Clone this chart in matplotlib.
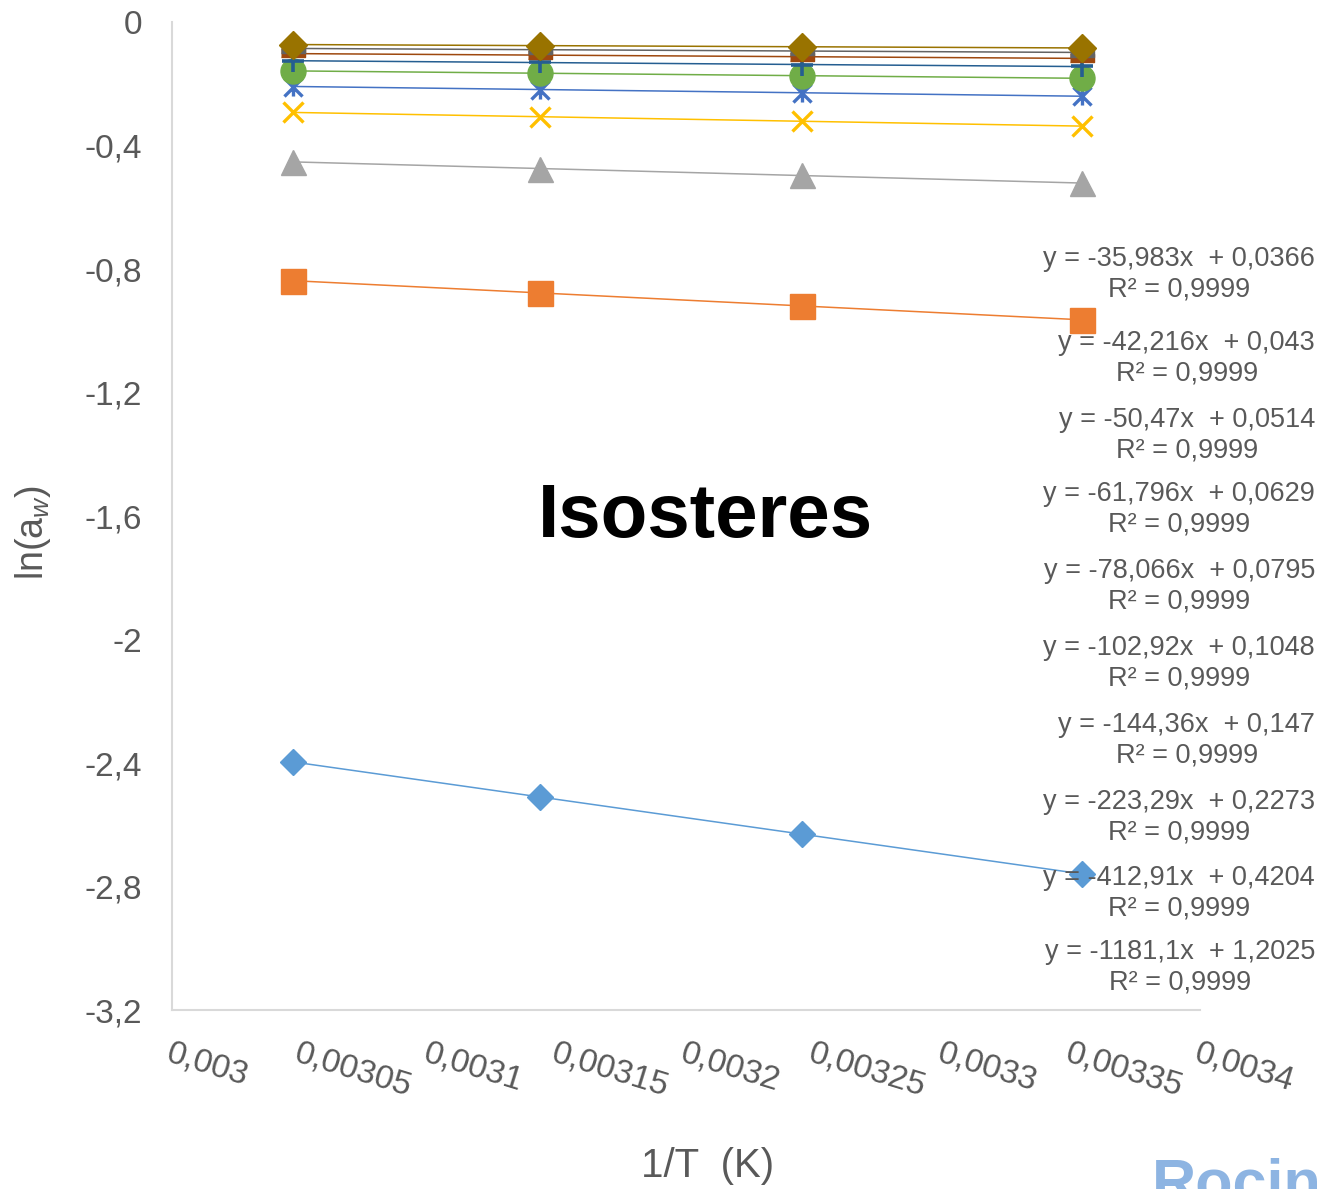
import matplotlib
matplotlib.use("Agg")
import matplotlib.pyplot as plt
import numpy as np
from matplotlib.path import Path

plt.rcParams['font.family'] = ['Liberation Sans', 'DejaVu Sans']
plt.rcParams['mathtext.fontset'] = 'custom'
plt.rcParams['mathtext.rm'] = 'Liberation Sans'
plt.rcParams['mathtext.it'] = 'Liberation Sans:italic'

# 1/T values (K^-1) for 55, 45, 35 and 25 °C
inv_T = [0.003047, 0.003143, 0.003245, 0.003354]

# ln(aw) at each temperature, one list per moisture level
ln_aw_1 = [-2.396, -2.510, -2.630, -2.759]
ln_aw_2 = [-0.838, -0.877, -0.920, -0.965]
ln_aw_3 = [-0.453, -0.475, -0.497, -0.522]
ln_aw_4 = [-0.293, -0.307, -0.322, -0.337]
ln_aw_5 = [-0.209, -0.219, -0.229, -0.240]
ln_aw_6 = [-0.158, -0.166, -0.174, -0.182]
ln_aw_7 = [-0.125, -0.131, -0.138, -0.144]
ln_aw_8 = [-0.102, -0.107, -0.112, -0.118]
ln_aw_9 = [-0.086, -0.090, -0.094, -0.099]
ln_aw_10 = [-0.073, -0.077, -0.080, -0.084]

# linear fits ln(aw) = slope * (1/T) + intercept
slopes = [-1181.1, -412.91, -223.29, -144.36, -102.92,
          -78.066, -61.796, -50.47, -42.216, -35.983]
intercepts = [1.2025, 0.4204, 0.2273, 0.147, 0.1048,
              0.0795, 0.0629, 0.0514, 0.043, 0.0366]
r_squared = ["0,9999"] * 10

x_ticks = [0.003, 0.00305, 0.0031, 0.00315, 0.0032, 0.00325,
           0.0033, 0.00335, 0.0034]
y_ticks = [0, -0.4, -0.8, -1.2, -1.6, -2, -2.4, -2.8, -3.2]

series = [ln_aw_1, ln_aw_2, ln_aw_3, ln_aw_4, ln_aw_5,
          ln_aw_6, ln_aw_7, ln_aw_8, ln_aw_9, ln_aw_10]

colors = ['#5B9BD5', '#ED7D31', '#A5A5A5', '#FFC000', '#4472C4',
          '#70AD47', '#255E91', '#9E480E', '#636363', '#997300']

star = Path([(-1, -1), (1, 1), (-1, 1), (1, -1), (0, -1), (0, 1)],
            [Path.MOVETO, Path.LINETO, Path.MOVETO, Path.LINETO,
             Path.MOVETO, Path.LINETO])
dash = [(-1, -0.33), (1, -0.33), (1, 0.33), (-1, 0.33)]

marker_styles = [
    dict(marker='D', markersize=13),
    dict(marker='s', markersize=18),
    dict(marker='^', markersize=18),
    dict(marker='x', markersize=14, markeredgewidth=2.4),
    dict(marker=star, markersize=13, markeredgewidth=2.4),
    dict(marker='o', markersize=18),
    dict(marker='+', markersize=16, markeredgewidth=2.6),
    dict(marker=dash, markersize=17),
    dict(marker=dash, markersize=17),
    dict(marker='D', markersize=14),
]

fig = plt.figure(figsize=(13.19, 11.89), dpi=100)
ax = fig.add_axes([0.1304, 0.1505, 0.7794, 0.831])

x_arr = np.array(inv_T)
x_end = np.array([x_arr.min(), x_arr.max()])
for i, ys in enumerate(series):
    ax.plot(x_end, slopes[i] * x_end + intercepts[i], color=colors[i],
            lw=1.1, zorder=2 + i * 0.01, solid_capstyle='butt')
for i, ys in enumerate(series):
    st = dict(marker_styles[i])
    ax.plot(inv_T, ys, linestyle='none', color=colors[i],
            markeredgecolor=colors[i], zorder=3 + i * 0.01, **st)

ax.set_xlim(0.003, 0.0034)
ax.set_ylim(-3.2, 0)
ax.set_xticks(x_ticks)
ax.set_yticks(y_ticks)

def comma(v):
    s = repr(float(v))
    if s.endswith('.0'):
        s = s[:-2]
    return s.replace('.', ',')

ax.set_yticklabels([comma(v) for v in y_ticks])
ax.set_xticklabels([comma(v) for v in x_ticks])
ax.tick_params(axis='y', length=0, pad=21.5, labelsize=24, labelcolor='#595959')
ax.tick_params(axis='x', length=0, pad=20, labelsize=24, labelcolor='#595959')
for lab in ax.get_xticklabels():
    lab.set_rotation(-17)
    lab.set_rotation_mode('anchor')
    lab.set_ha('left')
    lab.set_va('top')

for s in ['top', 'right']:
    ax.spines[s].set_visible(False)
for s in ['left', 'bottom']:
    ax.spines[s].set_color('#D9D9D9')
    ax.spines[s].set_linewidth(1.5)

# fit equations, stacked on the right
label_rows = [259, 343, 420, 494, 571, 648, 725, 802, 878, 952]
H = 1189.0
for k, yp in enumerate(label_rows):
    i = len(series) - 1 - k
    txt = "y = {}x  + {}\nR² = {}".format(comma(slopes[i]), comma(intercepts[i]),
                                         r_squared[i])
    fig.text(1315 / 1319, 1 - (yp - 13) / H, txt, ha='right', va='top',
             multialignment='center', fontsize=19.5, color='#595959',
             linespacing=1.22, zorder=10)

fig.text(705 / 1319, 1 - 517 / H, "Isosteres", ha='center', va='center',
         fontsize=55, fontweight='bold', color='black')
fig.text(708 / 1319, 1 - 1166 / H, "1/T  (K)", ha='center', va='center',
         fontsize=29, color='#595959')
fig.text(33 / 1319, 1 - 532 / H, r"ln(a$_{w}$)", ha='center', va='center',
         rotation=90, fontsize=27, color='#595959')
fig.text(1152 / 1319, 1 - 1158 / H, "Rocinela", ha='left', va='top',
         fontsize=44, fontweight='bold', color='#8DB4E2')

fig.savefig("out.png", dpi=100)
